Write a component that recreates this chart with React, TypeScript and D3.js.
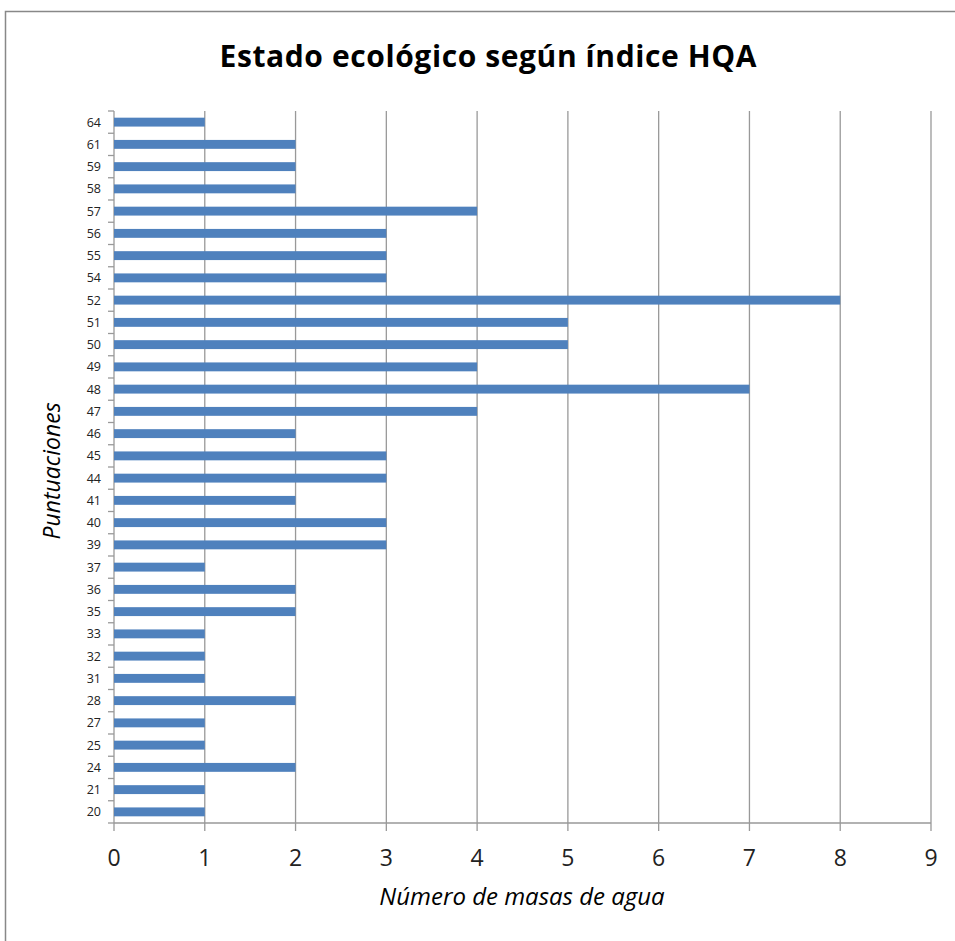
import React from "react";
import * as d3 from "d3";

const categories = ["64","61","59","58","57","56","55","54","52","51","50","49","48","47","46","45","44","41","40","39","37","36","35","33","32","31","28","27","25","24","21","20"];
const values = [1,2,2,2,4,3,3,3,8,5,5,4,7,4,2,3,3,2,3,3,1,2,2,1,1,1,2,1,1,2,1,1];
const xTicks = [0,1,2,3,4,5,6,7,8,9];
const title = "Estado ecológico según índice HQA";
const xTitle = "Número de masas de agua";
const yTitle = "Puntuaciones";

export default function App() {
  const W = 955, H = 941;
  const left = 114, right = 931, top = 111, bottom = 823;
  const x = d3.scaleLinear().domain([0, 9]).range([left, right]);
  const y = d3.scaleBand().domain(categories).range([top, bottom]).paddingInner(0.6).paddingOuter(0.3);
  const step = (bottom - top) / categories.length;
  const font = "Open Sans, Liberation Sans, sans-serif";
  return (
    <svg width={W} height={H} style={{ position: "absolute", left: 0, top: 0, background: "#fff" }}>
      <rect x={5.5} y={11.5} width={W + 20} height={H + 20} fill="#fff" stroke="#888" strokeWidth={1.5} />
      <text x={488} y={67} textAnchor="middle" fontFamily={font} fontWeight="bold" fontSize={30} textLength={537} lengthAdjust="spacing" fill="#000">{title}</text>
      {xTicks.map(t => (
        <line key={"g" + t} x1={x(t)} x2={x(t)} y1={top} y2={bottom} stroke="#999" strokeWidth={1.3} />
      ))}
      {xTicks.map(t => (
        <line key={"t" + t} x1={x(t)} x2={x(t)} y1={bottom} y2={bottom + 8} stroke="#999" strokeWidth={1.3} />
      ))}
      <line x1={left} x2={right} y1={bottom} y2={bottom} stroke="#999" strokeWidth={1.3} />
      {d3.range(categories.length + 1).map(i => (
        <line key={"yt" + i} x1={left - 6} x2={left} y1={top + i * step} y2={top + i * step} stroke="#999" strokeWidth={1.3} />
      ))}
      {categories.map((c, i) => (
        <rect key={c} x={x(0)} y={y(c)!} width={x(values[i]) - x(0)} height={y.bandwidth()} fill="#4F81BD" />
      ))}
      {categories.map(c => (
        <text key={"l" + c} x={101} y={y(c)! + y.bandwidth() / 2} dy="0.35em" textAnchor="end" fontFamily={font} fontSize={12.5} fill="#222">{c}</text>
      ))}
      {xTicks.map(t => (
        <text key={"xl" + t} x={x(t)} y={858} dy="0.35em" textAnchor="middle" fontFamily={font} fontSize={23} fill="#222">{t}</text>
      ))}
      <text x={522} y={897} dy="0.35em" textAnchor="middle" fontFamily={font} fontStyle="italic" fontSize={24} fill="#000">{xTitle}</text>
      <text transform={`translate(52,471) rotate(-90)`} dy="0.35em" textAnchor="middle" fontFamily={font} fontStyle="italic" fontSize={23} fill="#000">{yTitle}</text>
    </svg>
  );
}
